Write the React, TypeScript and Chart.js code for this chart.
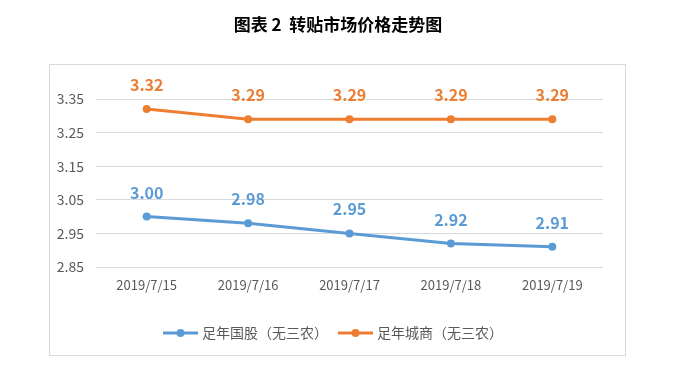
import React, { useEffect, useRef } from "react";
import { Chart, registerables } from "chart.js";

Chart.register(...registerables);

const titleText = "图表 2  转贴市场价格走势图";
const categories = ["2019/7/15", "2019/7/16", "2019/7/17", "2019/7/18", "2019/7/19"];
const seriesNames = ["足年国股（无三农）", "足年城商（无三农）"];
const guoguValues = [3.0, 2.98, 2.95, 2.92, 2.91];
const chengshangValues = [3.32, 3.29, 3.29, 3.29, 3.29];
const seriesColors = ["#5B9BD5", "#ED7D31"];
const yMin = 2.85;
const yMax = 3.35;
const yStep = 0.1;

const FONT = '"Noto Sans CJK SC", "Noto Sans", sans-serif';

const decorPlugin = {
  id: "decor",
  beforeDraw(chart: any) {
    const ctx = chart.ctx;
    ctx.save();
    ctx.fillStyle = "#ffffff";
    ctx.fillRect(0, 0, chart.width, chart.height);
    ctx.strokeStyle = "#D9D9D9";
    ctx.lineWidth = 1;
    ctx.strokeRect(49.5, 64.5, 576, 291);
    // title
    ctx.fillStyle = "#000000";
    ctx.font = `bold 17px ${FONT}`;
    ctx.textAlign = "center";
    ctx.textBaseline = "middle";
    ctx.fillText(titleText, 338, 25);
    ctx.restore();
  },
  afterDatasetsDraw(chart: any) {
    const ctx = chart.ctx;
    ctx.save();
    ctx.font = `bold 16px ${FONT}`;
    ctx.textAlign = "center";
    ctx.textBaseline = "middle";
    chart.data.datasets.forEach((ds: any, i: number) => {
      const meta = chart.getDatasetMeta(i);
      meta.data.forEach((pt: any, j: number) => {
        ctx.fillStyle = ds.borderColor;
        ctx.fillText(Number(ds.data[j]).toFixed(2), pt.x, pt.y - 24);
      });
    });
    // legend
    ctx.font = `14px ${FONT}`;
    ctx.textAlign = "left";
    const lineW = 35;
    const gapText = 4;
    const gapItem = 10;
    const widths = chart.data.datasets.map((ds: any) => lineW + gapText + ctx.measureText(ds.label).width);
    const total = widths.reduce((a: number, b: number) => a + b, 0) + gapItem * (widths.length - 1);
    let x = 333 - total / 2;
    const y = 333;
    chart.data.datasets.forEach((ds: any, i: number) => {
      ctx.strokeStyle = ds.borderColor;
      ctx.lineWidth = 3;
      ctx.beginPath();
      ctx.moveTo(x, y);
      ctx.lineTo(x + lineW, y);
      ctx.stroke();
      ctx.fillStyle = ds.borderColor;
      ctx.beginPath();
      ctx.arc(x + lineW / 2, y, 4, 0, Math.PI * 2);
      ctx.fill();
      ctx.fillStyle = "#595959";
      ctx.fillText(ds.label, x + lineW + gapText, y);
      x += widths[i] + gapItem;
    });
    ctx.restore();
  },
};

export default function App() {
  const ref = useRef<HTMLCanvasElement | null>(null);
  useEffect(() => {
    if (!ref.current) return;
    const chart = new Chart(ref.current, {
      type: "line",
      data: {
        labels: categories,
        datasets: [
          {
            label: seriesNames[0],
            data: guoguValues,
            borderColor: seriesColors[0],
            backgroundColor: seriesColors[0],
            borderWidth: 3,
            pointRadius: 4,
            pointBorderWidth: 0,
            pointBackgroundColor: seriesColors[0],
            tension: 0,
          },
          {
            label: seriesNames[1],
            data: chengshangValues,
            borderColor: seriesColors[1],
            backgroundColor: seriesColors[1],
            borderWidth: 3,
            pointRadius: 4,
            pointBorderWidth: 0,
            pointBackgroundColor: seriesColors[1],
            tension: 0,
          },
        ],
      },
      options: {
        responsive: false,
        animation: false,
        layout: { padding: { left: 46, right: 73, top: 99, bottom: 76 } },
        plugins: {
          legend: { display: false },
          title: { display: false },
          tooltip: { enabled: false },
        },
        scales: {
          x: {
            offset: true,
            grid: { display: false, drawTicks: false },
            border: { display: false },
            ticks: { color: "#595959", font: { family: FONT, size: 13 }, padding: 10, maxRotation: 0 },
            afterFit(scale: any) {
              scale.height = 30;
            },
          },
          y: {
            min: yMin,
            max: yMax,
            grid: { color: "#D9D9D9", drawTicks: false, lineWidth: 1 },
            border: { display: false },
            ticks: {
              stepSize: yStep,
              color: "#595959",
              font: { family: FONT, size: 14 },
              padding: 12,
              callback: (v: any) => Number(v).toFixed(2),
            },
            afterFit(scale: any) {
              scale.width = 50;
            },
          },
        },
      },
      plugins: [decorPlugin],
    });
    return () => chart.destroy();
  }, []);
  return (
    <div style={{ position: "absolute", left: 0, top: 0, width: 676, height: 373 }}>
      <canvas ref={ref} width={676} height={373} style={{ display: "block" }} />
    </div>
  );
}
